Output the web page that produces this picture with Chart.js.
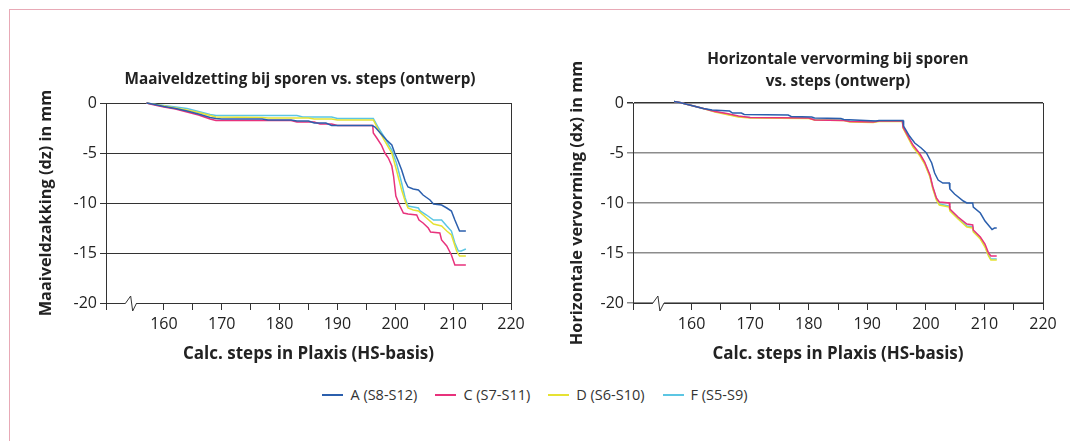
<!DOCTYPE html>
<html>
<head>
<meta charset="utf-8">
<title>Maaiveldzetting en horizontale vervorming</title>
<script src="https://cdn.jsdelivr.net/npm/chart.js@4.4.0/dist/chart.umd.min.js"></script>
<style>
  body { margin: 0; background: #fff; width: 1070px; height: 441px; overflow: hidden; position: relative; font-family: 'Open Sans', sans-serif; }
  .frame { position: absolute; left: 9px; top: 9px; width: 1100px; height: 500px; border-top: 1.5px solid #e8a9b6; border-left: 1.5px solid #e8a9b6; }
  #wrapL { position: absolute; left: 0; top: 0; width: 540px; height: 370px; }
  #wrapR { position: absolute; left: 540px; top: 0; width: 530px; height: 370px; }
  #legend { position: absolute; left: 0; top: 385px; width: 1070px; display: flex; justify-content: center; gap: 18px; font-size: 14.5px; color: #333; }
  #legend .item { display: flex; align-items: center; }
  #legend .swatch { width: 21px; height: 2px; margin-right: 7px; }
</style>
</head>
<body>
<div class="frame"></div>
<div id="wrapL"><canvas id="chartDz" width="540" height="370"></canvas></div>
<div id="wrapR"><canvas id="chartDx" width="530" height="370"></canvas></div>
<div id="legend"></div>
<script>
// sporen
const seriesLabels = ['A (S8-S12)', 'C (S7-S11)', 'D (S6-S10)', 'F (S5-S9)'];
const seriesColors = ['#2b5fad', '#e8327c', '#e6e233', '#5cc6e3'];

// Maaiveldzakking (dz) in mm per calc. step
const dzA_steps = [157, 158, 160, 162, 164, 166, 168, 169, 170, 177, 178, 182, 183, 185, 186, 188, 189, 196, 196.5, 197.4, 198.5, 199.4, 199.9, 200.5, 201.1, 201.7, 202.2, 203.1, 204.0, 204.8, 206.0, 206.6, 208.0, 208.9, 209.7, 210.3, 211.1, 212.2];
const dzA = [0, -0.1, -0.35, -0.55, -0.8, -1.1, -1.45, -1.55, -1.6, -1.6, -1.7, -1.7, -1.8, -1.8, -2.0, -2.0, -2.25, -2.25, -2.4, -3.0, -3.7, -4.2, -5.0, -5.8, -6.7, -7.8, -8.4, -8.6, -8.7, -9.2, -9.7, -10.1, -10.2, -10.5, -10.8, -11.7, -12.8, -12.8];

const dzC_steps = [157, 158, 160, 162, 164, 166, 168, 169, 182, 183, 186, 187, 189, 190, 196.1, 196.2, 196.8, 197.6, 198.2, 198.8, 199.4, 199.7, 200.1, 200.8, 201.4, 202.2, 203.7, 204.1, 204.8, 205.7, 206.1, 207.7, 208.0, 208.9, 209.7, 210.3, 212.2];
const dzC = [0, -0.15, -0.4, -0.6, -0.9, -1.2, -1.6, -1.75, -1.75, -1.9, -1.9, -2.1, -2.1, -2.25, -2.25, -3.0, -3.5, -4.2, -5.0, -5.5, -6.3, -7.3, -9.3, -10.3, -11.0, -11.1, -11.2, -11.7, -12.0, -12.5, -12.9, -13.0, -13.7, -14.3, -15.2, -16.2, -16.2];

const dzD_steps = [157, 158, 160, 162, 164, 166, 168, 169, 177, 178, 185, 186, 189, 190, 196.2, 197.1, 198.2, 199.4, 200.2, 201.1, 201.7, 202.2, 203.1, 204.0, 205.4, 206.6, 208.0, 208.9, 209.7, 210.6, 211.1, 212.2];
const dzD = [0, -0.1, -0.3, -0.5, -0.7, -0.95, -1.25, -1.4, -1.45, -1.5, -1.5, -1.6, -1.6, -1.7, -1.7, -2.7, -3.8, -5.0, -6.7, -8.7, -9.8, -10.5, -10.7, -10.8, -11.5, -12.1, -12.3, -12.8, -13.2, -14.8, -15.3, -15.3];

const dzF_steps = [157, 158, 160, 162, 164, 166, 168, 169, 183, 184, 189, 190, 196.2, 197.1, 198.2, 199.4, 200.2, 201.1, 201.7, 202.2, 203.1, 204.0, 204.3, 205.4, 206.6, 208.0, 208.9, 209.7, 210.3, 210.9, 211.4, 212.2];
const dzF = [0, -0.1, -0.25, -0.4, -0.55, -0.85, -1.15, -1.25, -1.25, -1.4, -1.4, -1.55, -1.55, -2.5, -3.5, -4.7, -6.0, -8.0, -9.5, -10.3, -10.4, -10.5, -10.8, -11.2, -11.7, -11.7, -12.3, -12.8, -14.0, -14.8, -14.8, -14.6];

// Horizontale vervorming (dx) in mm per calc. step
const dxA_steps = [157, 158, 160, 162, 163.5, 166.5, 167, 168.5, 169, 176.5, 177, 180.5, 181, 185.5, 186, 191.5, 192, 196.1, 196.2, 197.2, 198.1, 199.2, 200.1, 201.0, 201.5, 202.1, 202.9, 204.0, 204.1, 204.9, 206.4, 207.0, 208.0, 208.1, 209.3, 210.1, 211.3, 211.7, 212.1];
const dxA = [0.15, 0.05, -0.25, -0.55, -0.7, -0.8, -1.0, -1.0, -1.15, -1.2, -1.35, -1.4, -1.5, -1.55, -1.65, -1.8, -1.75, -1.75, -2.3, -3.3, -4.0, -4.5, -5.0, -6.0, -7.0, -7.7, -8.0, -8.0, -8.6, -9.1, -9.8, -10.0, -10.0, -10.4, -11.0, -11.8, -12.65, -12.5, -12.5];

const dxCDF_steps = [157, 158, 160, 162, 164, 166, 168, 170, 180, 181, 186, 187, 191, 192, 196.0, 196.1, 197.8, 199.0, 199.8, 200.7, 201.2, 201.8, 202.3, 204.0, 204.1, 205.5, 207.0, 208.0, 208.1, 209.3, 210.1, 210.7, 211.1, 212.1];
const dxC = [0.15, 0.05, -0.25, -0.55, -0.85, -1.05, -1.3, -1.45, -1.5, -1.7, -1.75, -1.85, -1.9, -1.8, -1.8, -2.4, -4.2, -5.1, -5.9, -7.2, -8.4, -9.5, -9.9, -10.0, -10.6, -11.4, -12.1, -12.2, -12.7, -13.4, -14.1, -15.0, -15.3, -15.3];
const dxD = [0.15, 0.05, -0.25, -0.55, -0.9, -1.15, -1.4, -1.5, -1.55, -1.7, -1.75, -1.9, -1.95, -1.85, -1.85, -2.5, -4.4, -5.3, -6.1, -7.4, -8.6, -9.7, -10.2, -10.4, -10.8, -11.6, -12.4, -12.5, -12.9, -13.6, -14.4, -15.3, -15.7, -15.7];
const dxF = [0.15, 0.05, -0.25, -0.55, -0.85, -1.1, -1.35, -1.45, -1.5, -1.65, -1.7, -1.8, -1.85, -1.8, -1.8, -2.45, -4.3, -5.2, -6.0, -7.3, -8.5, -9.6, -10.1, -10.3, -10.7, -11.5, -12.3, -12.4, -12.8, -13.5, -14.3, -15.2, -15.6, -15.6];

// assen
const xMin = 150, xMax = 220, xStep = 5;
const yMin = -20, yMax = 0, yStep = 5;
const xTitle = 'Calc. steps in Plaxis (HS-basis)';

Chart.defaults.font.family = "'Open Sans', sans-serif";
Chart.defaults.color = '#222';

function pts(xs, ys) {
    return xs.map(function (x, i) { return { x: x, y: ys[i] }; });
}

// asbreuk (zigzag) op de x-as
const axisBreak = {
    id: 'axisBreak',
    afterDraw: function (chart) {
        const ctx = chart.ctx;
        const y = chart.chartArea.bottom;
        const x1 = chart.scales.x.getPixelForValue(153.4);
        const x2 = chart.scales.x.getPixelForValue(155.3);
        ctx.save();
        ctx.fillStyle = '#fff';
        ctx.fillRect(x1, y - 2, x2 - x1, 4);
        ctx.strokeStyle = '#333';
        ctx.lineWidth = 1;
        ctx.beginPath();
        ctx.moveTo(x1, y);
        ctx.lineTo(x1 + 5, y - 7);
        ctx.lineTo(x1 + 7, y + 8);
        ctx.lineTo(x2, y);
        ctx.stroke();
        ctx.restore();
    }
};

function makeChart(id, title, yTitle, series, opt) {
    // titel iets verschuiven t.o.v. het plotgebied
    const titleShift = {
        id: 'titleShift',
        afterLayout: function (chart) {
            chart.titleBlock.left += opt.titleShift;
            chart.titleBlock.right += opt.titleShift;
        }
    };
    return new Chart(document.getElementById(id), {
        type: 'line',
        data: {
            datasets: series.map(function (d, i) {
                return {
                    label: seriesLabels[i],
                    data: d,
                    borderColor: seriesColors[i],
                    backgroundColor: seriesColors[i],
                    borderWidth: 1.5,
                    pointRadius: 0,
                    tension: 0,
                    fill: false,
                    clip: false
                };
            })
        },
        options: {
            responsive: false,
            animation: false,
            devicePixelRatio: 1,
            layout: { padding: { left: opt.padLeft, right: opt.padRight, top: opt.padTop, bottom: 5 } },
            plugins: {
                legend: { display: false },
                tooltip: { enabled: false },
                title: {
                    display: true,
                    text: title,
                    fullSize: false,
                    color: '#222',
                    font: { size: 15.3, weight: 'bold', lineHeight: 1.38 },
                    padding: { top: 0, bottom: opt.titleGap }
                }
            },
            scales: {
                x: {
                    type: 'linear',
                    min: xMin,
                    max: xMax,
                    afterFit: function (scale) { scale.height = 62; },
                    ticks: {
                        stepSize: xStep,
                        autoSkip: false,
                        maxRotation: 0,
                        padding: 5,
                        font: { size: 16 },
                        color: '#222',
                        callback: function (v) { return (v % 10 === 0 && v > xMin) ? v : ''; }
                    },
                    grid: {
                        drawOnChartArea: false,
                        tickLength: 7,
                        color: function (c) { return c.tick && c.tick.value === 155 ? 'rgba(0,0,0,0)' : '#333'; }
                    },
                    border: { display: true, color: '#333' },
                    title: {
                        display: true,
                        text: xTitle,
                        color: '#222',
                        font: { size: 17, weight: 'bold' },
                        padding: { top: 0, bottom: 1 }
                    }
                },
                y: {
                    min: yMin,
                    max: yMax,
                    afterFit: function (scale) { scale.width = opt.yWidth; },
                    ticks: { stepSize: yStep, padding: 3, font: { size: 16 }, color: '#222' },
                    grid: {
                        tickLength: 6,
                        lineWidth: opt.gridWidth,
                        color: function (c) { return c.tick && c.tick.value === 0 ? '#333' : opt.gridColor; }
                    },
                    border: { display: true, color: '#333' },
                    title: {
                        display: true,
                        text: yTitle,
                        color: '#222',
                        font: { size: 16.3, weight: 'bold' },
                        padding: { top: 0, bottom: 0 }
                    }
                },
                yRight: {
                    position: 'right',
                    min: yMin,
                    max: yMax,
                    afterFit: function (scale) { scale.width = 0; },
                    ticks: { display: false },
                    grid: { display: false },
                    border: { display: true, color: '#333' }
                }
            }
        },
        plugins: [axisBreak, titleShift]
    });
}

const chartDz = makeChart('chartDz',
    'Maaiveldzetting bij sporen vs. steps (ontwerp)',
    'Maaiveldzakking (dz) in mm',
    [pts(dzA_steps, dzA), pts(dzC_steps, dzC), pts(dzD_steps, dzD), pts(dzF_steps, dzF)],
    { padLeft: 37, padRight: 29, padTop: 69.5, titleGap: 12.4, yWidth: 69, gridColor: '#333', gridWidth: 1, titleShift: -8.5 });

const chartDx = makeChart('chartDx',
    ['Horizontale vervorming bij sporen', 'vs. steps (ontwerp)'],
    'Horizontale vervorming (dx) in mm',
    [pts(dxA_steps, dxA), pts(dxCDF_steps, dxC), pts(dxCDF_steps, dxD), pts(dxCDF_steps, dxF)],
    { padLeft: 28, padRight: 27, padTop: 49.5, titleGap: 11.3, yWidth: 65, gridColor: '#8c8c8c', gridWidth: 1.5, titleShift: 0 });

// legenda onder beide grafieken
const legendBox = document.getElementById('legend');
chartDz.data.datasets.forEach(function (ds) {
    const item = document.createElement('div');
    item.className = 'item';
    const sw = document.createElement('span');
    sw.className = 'swatch';
    sw.style.background = ds.borderColor;
    const txt = document.createElement('span');
    txt.textContent = ds.label;
    item.appendChild(sw);
    item.appendChild(txt);
    legendBox.appendChild(item);
});
</script>
</body>
</html>
